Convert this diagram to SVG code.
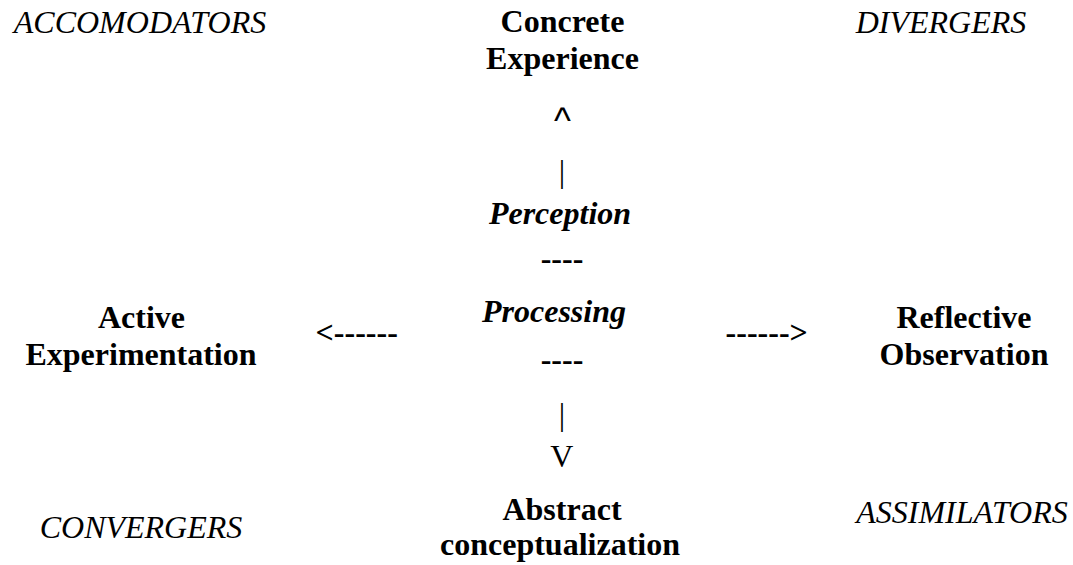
<svg xmlns="http://www.w3.org/2000/svg" width="1073" height="565" viewBox="0 0 1073 565">
<style>
text{font-family:"Liberation Serif","Times New Roman",serif;font-size:32px;fill:#000;text-anchor:middle}
.b{font-weight:bold}
.i{font-style:italic}
.s{font-family:"Liberation Sans",Arial,sans-serif;font-size:36px}
</style>
<rect width="1073" height="565" fill="#fff"/>
<g id="accomodators"><text class="i" x="140" y="33">ACCOMODATORS</text></g>
<g id="divergers"><text class="i" x="941" y="33">DIVERGERS</text></g>
<g id="convergers"><text class="i" x="141" y="538">CONVERGERS</text></g>
<g id="assimilators"><text class="i" x="962" y="523">ASSIMILATORS</text></g>
<g id="concrete-experience"><text class="b" x="562.5" y="32">Concrete</text><text class="b" x="562.5" y="68.5">Experience</text></g>
<g id="perception-processing">
<text class="b i" x="560" y="224">Perception</text>
<text class="b" x="562" y="268.5">----</text>
<text class="b i" x="554" y="322">Processing</text>
<text class="b" x="562" y="369.5">----</text>
</g>
<g id="active-experimentation"><text class="b" x="141.5" y="328">Active</text><text class="b" x="141" y="365">Experimentation</text></g>
<g id="reflective-observation"><text class="b" x="964" y="328">Reflective</text><text class="b" x="964" y="365">Observation</text></g>
<g id="abstract-conceptualization"><text class="b" x="562" y="520">Abstract</text><text class="b" x="560" y="555">conceptualization</text></g>
<g id="connectors">
<text class="s" x="562.5" y="133">^</text>
<text x="562" y="182">|</text>
<text x="562" y="425">|</text>
<text x="561.7" y="467">V</text>
<text class="b" x="356.7" y="342.5">&lt;------</text>
<text class="b" x="766.7" y="342.5">------&gt;</text>
</g>
</svg>
